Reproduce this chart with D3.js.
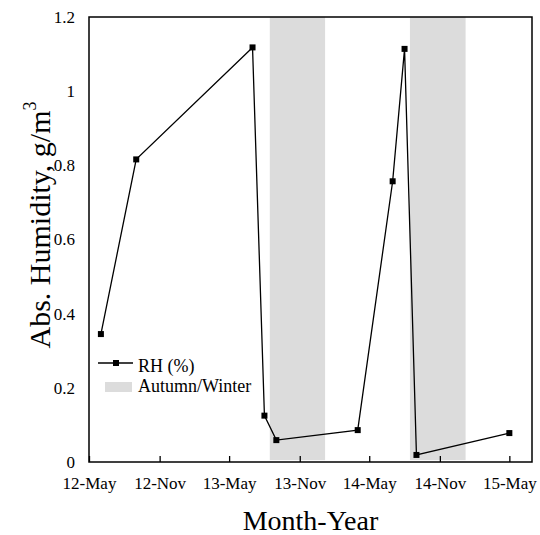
<!DOCTYPE html>
<html>
<head>
<meta charset="utf-8">
<script src="https://cdn.jsdelivr.net/npm/d3@7"></script>
<style>
  html, body { margin: 0; padding: 0; background: #fff; }
  svg { display: block; }
  svg text { font-family: "Liberation Serif", "Times New Roman", "DejaVu Serif", serif !important; fill: #000; }
</style>
</head>
<body>
<svg id="chart" width="540" height="535"></svg>
<script>
// sample dates and absolute humidity readings (g/m3)
const sampleDates = ["2012-06-01", "2012-09-01", "2013-07-01", "2013-08-01", "2013-09-01",
                     "2014-04-01", "2014-07-01", "2014-08-01", "2014-09-01", "2015-05-01"];
const absHumidity = [0.345, 0.816, 1.118, 0.125, 0.059, 0.086, 0.757, 1.114, 0.019, 0.078];

// autumn/winter shaded periods
const seasonStart = ["2013-08-15", "2014-08-15"];
const seasonEnd   = ["2014-01-06", "2015-01-07"];

// axis ticks
const xTicks = ["2012-05-01", "2012-11-01", "2013-05-01", "2013-11-01", "2014-05-01", "2014-11-01", "2015-05-01"];
const yTicks = [0, 0.2, 0.4, 0.6, 0.8, 1, 1.2];
const xDomain = ["2012-05-01", "2015-06-29"];

const parse = d3.utcParse("%Y-%m-%d");
const W = 540, H = 535;
const margin = { top: 17, right: 8, bottom: 73, left: 89 };
const iw = W - margin.left - margin.right;
const ih = H - margin.top - margin.bottom;

const svg = d3.select("#chart");
const g = svg.append("g").attr("transform", `translate(${margin.left},${margin.top})`);

const x = d3.scaleUtc().domain(xDomain.map(parse)).range([0, iw]);
const y = d3.scaleLinear().domain([0, 1.2]).range([ih, 0]);

// shaded bands
const bands = seasonStart.map((s, i) => ({ s: parse(s), e: parse(seasonEnd[i]) }));
g.append("g").selectAll("rect").data(bands).enter().append("rect")
    .attr("x", d => x(d.s))
    .attr("width", d => x(d.e) - x(d.s))
    .attr("y", y(1.2))
    .attr("height", y(0.005) - y(1.2))
    .attr("fill", "#dcdcdc");

// series
const pts = sampleDates.map((d, i) => ({ date: parse(d), v: absHumidity[i] }));
const line = d3.line().x(d => x(d.date)).y(d => y(d.v));
g.append("path").datum(pts)
    .attr("d", line)
    .attr("fill", "none")
    .attr("stroke", "#000")
    .attr("stroke-width", 1.3);
g.append("g").selectAll("rect").data(pts).enter().append("rect")
    .attr("x", d => x(d.date) - 3)
    .attr("y", d => y(d.v) - 3)
    .attr("width", 6).attr("height", 6)
    .attr("fill", "#000");

// frame
g.append("rect")
    .attr("width", iw).attr("height", ih)
    .attr("fill", "none").attr("stroke", "#000").attr("stroke-width", 1.5);

// x axis: inward ticks
const xAxis = g.append("g")
    .attr("transform", `translate(0,${ih})`)
    .call(d3.axisBottom(x)
        .tickValues(xTicks.map(parse))
        .tickFormat(d3.utcFormat("%y-%b"))
        .tickSize(-6)
        .tickPadding(15));
xAxis.attr("font-family", null);
xAxis.select(".domain").remove();
xAxis.selectAll("line").attr("stroke", "#000").attr("stroke-width", 1.3);
xAxis.selectAll("text").attr("font-size", 17);

// y axis: labels only
const yAxis = g.append("g")
    .call(d3.axisLeft(y).tickValues(yTicks).tickFormat(d => d3.format("")(d)).tickSize(0).tickPadding(14));
yAxis.attr("font-family", null);
yAxis.select(".domain").remove();
yAxis.selectAll("text").attr("font-size", 17);

// axis titles
svg.append("text")
    .attr("x", margin.left + iw / 2).attr("y", 530)
    .attr("text-anchor", "middle")
    .attr("font-size", 28)
    .text("Month-Year");

const yt = svg.append("text")
    .attr("transform", "translate(50,225) rotate(-90)")
    .attr("text-anchor", "middle")
    .attr("font-size", 30);
yt.append("tspan").text("Abs. Humidity, g/m");
yt.append("tspan").attr("font-size", 18).attr("dy", -14).text("3");

// legend
const lg = svg.append("g");
lg.append("line").attr("x1", 98).attr("x2", 133).attr("y1", 363).attr("y2", 363)
    .attr("stroke", "#000").attr("stroke-width", 1.3);
lg.append("rect").attr("x", 113).attr("y", 360).attr("width", 6).attr("height", 6).attr("fill", "#000");
lg.append("text").attr("x", 138).attr("y", 372).attr("font-size", 18).text("RH (%)");
lg.append("rect").attr("x", 105).attr("y", 382).attr("width", 27).attr("height", 10).attr("fill", "#dcdcdc");
lg.append("text").attr("x", 138).attr("y", 392).attr("font-size", 18).text("Autumn/Winter");
</script>
</body>
</html>
